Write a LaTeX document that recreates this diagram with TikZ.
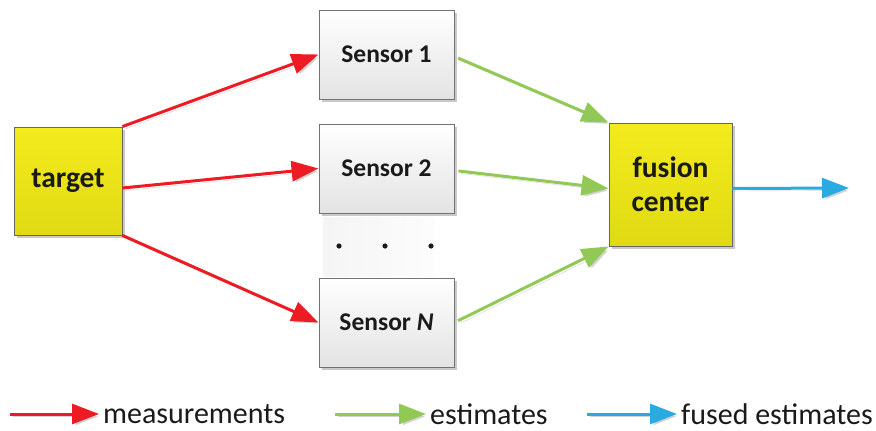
\documentclass[tikz,border=0pt]{standalone}
\usepackage{fontspec}
\setmainfont{Carlito}
\usetikzlibrary{arrows.meta,shadows}
\definecolor{myred}{HTML}{ED1C24}
\definecolor{mygreen}{HTML}{92C956}
\definecolor{myblue}{HTML}{29ABE2}
\definecolor{ytop}{HTML}{F3EB1C}
\definecolor{ybot}{HTML}{E0DA14}
\definecolor{txt}{HTML}{1A1A1A}
\tikzset{
  shad/.style={drop shadow={shadow xshift=2.5pt, shadow yshift=-2.5pt, fill=black!30, opacity=0.7}},
  sensorbox/.style={draw=black!55, line width=0.9pt, top color=white, bottom color=black!11, shad,
    minimum width=135pt, minimum height=89pt, inner sep=0pt, text=txt,
    font=\bfseries\fontsize{25.5}{29}\selectfont},
  ybox/.style={draw=black!60, line width=0.9pt, top color=ytop, bottom color=ybot, shad,
    inner sep=0pt, text=txt, align=center, font=\bfseries\fontsize{29.5}{34}\selectfont},
  arr/.style={line width=3pt, -{Triangle[length=27pt,width=20pt]},
    preaction={draw=black!18, transform canvas={shift={(2.5pt,-2.5pt)}}}},
  redarr/.style={arr, draw=myred},
  greenarr/.style={arr, draw=mygreen, shorten <=4pt},
  bluearr/.style={arr, draw=myblue},
  legtext/.style={anchor=west, inner sep=0pt, text=txt, font=\fontsize{30}{34}\selectfont},
}
\begin{document}
\begin{tikzpicture}[x=1pt,y=-1pt]
\useasboundingbox (0,0) rectangle (876,431);
% dots panel
\fill[left color=black!4, right color=black!1] (323,217) rectangle (435,276);
\node[ybox, minimum width=108pt, minimum height=108pt] (target) at (68,181) {target};
\node[sensorbox] (s1) at (386.5,54.5) {Sensor 1};
\node[sensorbox] (s2) at (386.5,168.5) {Sensor 2};
\node[sensorbox] (sN) at (386.5,322.5) {Sensor \textit{N}};
\node[ybox, minimum width=123pt, minimum height=123pt] (fc) at (670.5,184.5) {fusion\\center};
\foreach \x/\n in {339/d1,385/d2,431/d3} \fill[txt] (\x,246) circle (2.6pt);
\coordinate (out) at (849,188);
% measurements
\draw[redarr] (target.north east) -- (s1.west);
\draw[redarr] ([yshift=-7pt]target.east) -- (s2.west);
\draw[redarr] (target.south east) -- (sN.west);
% estimates
\draw[greenarr] ([yshift=-2pt]s1.east) -- (fc.north west);
\draw[greenarr] ([yshift=-2pt]s2.east) -- ([yshift=-4pt]fc.west);
\draw[greenarr] (sN.east) -- (fc.south west);
% fused
\draw[bluearr] ([yshift=-4pt]fc.east) -- (out);
% legend
\coordinate (l1) at (10,414);
\node[legtext] (t1) at (103,414) {measurements};
\draw[redarr] (l1) -- ([xshift=-4pt]t1.west);
\coordinate (l2) at (335,414);
\node[legtext] (t2) at (430,414) {estimates};
\draw[greenarr, shorten <=0pt] (l2) -- ([xshift=-4pt]t2.west);
\coordinate (l3) at (587,414);
\node[legtext] (t3) at (681,414) {fused estimates};
\draw[bluearr] (l3) -- ([xshift=-4pt]t3.west);
\end{tikzpicture}
\end{document}
